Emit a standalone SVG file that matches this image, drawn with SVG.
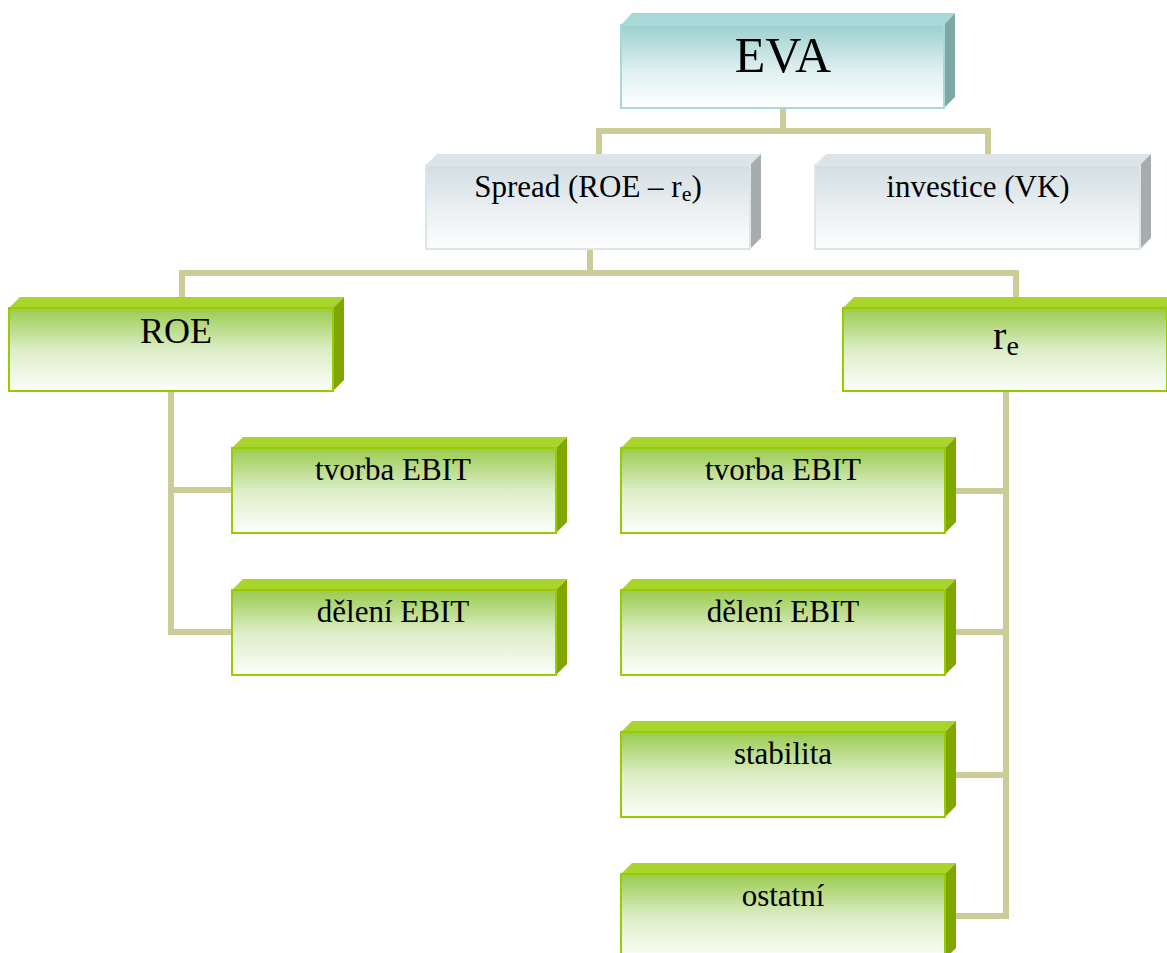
<svg xmlns="http://www.w3.org/2000/svg" width="1167" height="953" viewBox="0 0 1167 953">
  <defs>
    <linearGradient id="gTeal" x1="0" y1="0" x2="0" y2="1">
      <stop offset="0" stop-color="#9ccfcf"/>
      <stop offset="0.55" stop-color="#dff0f0"/>
      <stop offset="1" stop-color="#ffffff"/>
    </linearGradient>
    <linearGradient id="gGray" x1="0" y1="0" x2="0" y2="1">
      <stop offset="0" stop-color="#d3dee2"/>
      <stop offset="0.6" stop-color="#eef2f4"/>
      <stop offset="1" stop-color="#fcfdfd"/>
    </linearGradient>
    <linearGradient id="gGreen" x1="0" y1="0" x2="0" y2="1">
      <stop offset="0" stop-color="#9acb4e"/>
      <stop offset="0.5" stop-color="#dcedc6"/>
      <stop offset="1" stop-color="#fdfefb"/>
    </linearGradient>
  </defs>
  <style>
    .conn { fill: none; stroke: #cccc99; stroke-width: 6; stroke-linejoin: miter; }
    .lbl { font-family: "Liberation Serif", "Times New Roman", serif; fill: #000; text-anchor: middle; }
    .teal .front { fill: url(#gTeal); stroke: #a6dada; stroke-width: 2; }
    .teal .top { fill: #a8d8d8; }
    .teal .side { fill: #7ea8a6; }
    .gray .front { fill: url(#gGray); stroke: #dde5e8; stroke-width: 2; }
    .gray .top { fill: #dde4e7; }
    .gray .side { fill: #a6adaf; }
    .green .front { fill: url(#gGreen); stroke: #99cc00; stroke-width: 2; }
    .green .top { fill: #a8d42c; }
    .green .side { fill: #7fa700; }
  </style>

  <!-- connectors -->
  <g id="connectors">
    <path class="conn" d="M783 108 V131"/>
    <path class="conn" d="M599 154 V131 H988 V154"/>
    <path class="conn" d="M590 249 V273"/>
    <path class="conn" d="M182 297 V273 H1016 V297"/>
    <path class="conn" d="M171 391 V632 H232"/>
    <path class="conn" d="M171 490 H232"/>
    <path class="conn" d="M1006 391 V916 H956"/>
    <path class="conn" d="M956 491 H1006"/>
    <path class="conn" d="M956 632 H1006"/>
    <path class="conn" d="M956 775 H1006"/>
  </g>

  <!-- EVA -->
  <g id="node-eva" class="teal">
    <polygon class="top" points="621,25 632,13 955,13 944,25"/>
    <polygon class="side" points="944,25 955,13 955,97 944,108"/>
    <rect class="front" x="621" y="25" width="323" height="83"/>
    <text class="lbl" x="783" y="72" font-size="50">EVA</text>
  </g>

  <!-- Spread -->
  <g id="node-spread" class="gray">
    <polygon class="top" points="426,165 437,154 761,154 750,165"/>
    <polygon class="side" points="750,165 761,154 761,238 750,249"/>
    <rect class="front" x="426" y="165" width="324" height="84"/>
    <text class="lbl" x="588" y="197" font-size="31">Spread (ROE – r<tspan font-size="22" dy="4">e</tspan><tspan dy="-4">)</tspan></text>
  </g>

  <!-- investice -->
  <g id="node-investice" class="gray">
    <polygon class="top" points="815,165 826,154 1151,154 1140,165"/>
    <polygon class="side" points="1140,165 1151,154 1151,238 1140,249"/>
    <rect class="front" x="815" y="165" width="325" height="84"/>
    <text class="lbl" x="978" y="197" font-size="31">investice (VK)</text>
  </g>

  <!-- ROE -->
  <g id="node-roe" class="green">
    <polygon class="top" points="9,308 20,297 344,297 333,308"/>
    <polygon class="side" points="333,308 344,297 344,380 333,391"/>
    <rect class="front" x="9" y="308" width="324" height="83"/>
    <text class="lbl" x="176" y="343" font-size="36">ROE</text>
  </g>

  <!-- r_e -->
  <g id="node-re" class="green">
    <polygon class="top" points="843,308 854,297 1178,297 1167,308"/>
    <rect class="front" x="843" y="308" width="324" height="83"/>
    <text class="lbl" x="1006" y="349" font-size="40">r<tspan font-size="28" dy="6">e</tspan></text>
  </g>

  <!-- ROE children -->
  <g id="node-roe-tvorba" class="green">
    <polygon class="top" points="232,448 243,437 567,437 556,448"/>
    <polygon class="side" points="556,448 567,437 567,522 556,533"/>
    <rect class="front" x="232" y="448" width="324" height="85"/>
    <text class="lbl" x="393" y="480" font-size="31">tvorba EBIT</text>
  </g>
  <g id="node-roe-deleni" class="green">
    <polygon class="top" points="232,590 243,579 567,579 556,590"/>
    <polygon class="side" points="556,590 567,579 567,664 556,675"/>
    <rect class="front" x="232" y="590" width="324" height="85"/>
    <text class="lbl" x="393" y="622" font-size="31">dělení EBIT</text>
  </g>

  <!-- r_e children -->
  <g id="node-re-tvorba" class="green">
    <polygon class="top" points="621,448 632,437 956,437 945,448"/>
    <polygon class="side" points="945,448 956,437 956,522 945,533"/>
    <rect class="front" x="621" y="448" width="324" height="85"/>
    <text class="lbl" x="783" y="480" font-size="31">tvorba EBIT</text>
  </g>
  <g id="node-re-deleni" class="green">
    <polygon class="top" points="621,590 632,579 956,579 945,590"/>
    <polygon class="side" points="945,590 956,579 956,664 945,675"/>
    <rect class="front" x="621" y="590" width="324" height="85"/>
    <text class="lbl" x="783" y="622" font-size="31">dělení EBIT</text>
  </g>
  <g id="node-re-stabilita" class="green">
    <polygon class="top" points="621,732 632,721 956,721 945,732"/>
    <polygon class="side" points="945,732 956,721 956,806 945,817"/>
    <rect class="front" x="621" y="732" width="324" height="85"/>
    <text class="lbl" x="783" y="764" font-size="31">stabilita</text>
  </g>
  <g id="node-re-ostatni" class="green">
    <polygon class="top" points="621,874 632,863 956,863 945,874"/>
    <polygon class="side" points="945,874 956,863 956,948 945,959"/>
    <rect class="front" x="621" y="874" width="324" height="85"/>
    <text class="lbl" x="783" y="906" font-size="31">ostatní</text>
  </g>
</svg>
